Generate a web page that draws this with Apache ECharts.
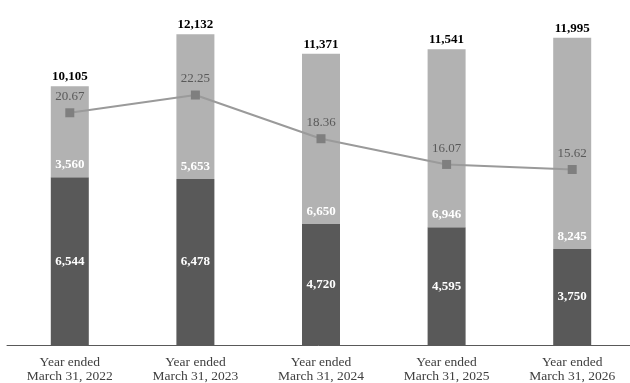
<!DOCTYPE html>
<html>
<head>
<meta charset="utf-8">
<script src="https://cdn.jsdelivr.net/npm/echarts@6/dist/echarts.min.js"></script>
<style>html,body{margin:0;padding:0;background:#fff;}#c{width:630px;height:383px;}</style>
</head>
<body>
<div id="c"></div>
<script>
const categories = ["Year ended\nMarch 31, 2022","Year ended\nMarch 31, 2023","Year ended\nMarch 31, 2024","Year ended\nMarch 31, 2025","Year ended\nMarch 31, 2026"];
const darkValues = [6544, 6478, 4720, 4595, 3750];
const lightValues = [3560, 5653, 6650, 6946, 8245];
const totalLabels = ["10,105", "12,132", "11,371", "11,541", "11,995"];
const lineValues = [20.67, 22.25, 18.36, 16.07, 15.62];

const fmt = v => v.toLocaleString('en-US');
const serif = '"Liberation Serif", "Times New Roman", serif';

const chart = echarts.init(document.getElementById('c'), null, {renderer: 'canvas'});
chart.setOption({
  animation: false,
  backgroundColor: '#fff',
  grid: {left: 7, top: 12, width: 628, height: 333, outerBoundsMode: 'none', containLabel: false},
  xAxis: {
    type: 'category', data: categories,
    axisLine: {show: true, lineStyle: {color: '#595959', width: 1}},
    axisTick: {show: false},
    axisLabel: {color: '#404040', fontFamily: serif, fontSize: 13.5, lineHeight: 14, margin: 10}
  },
  yAxis: [
    {type: 'value', min: 0, max: 13000, show: false, splitLine: {show: false}},
    {type: 'value', min: 0, max: 29.64, show: false, splitLine: {show: false}}
  ],
  series: [
    {
      type: 'bar', stack: 's', data: darkValues, barWidth: 38,
      itemStyle: {color: '#595959'},
      label: {show: true, position: 'inside', color: '#fff', fontFamily: serif, fontWeight: 'bold', fontSize: 13, formatter: p => fmt(p.value)}
    },
    {
      type: 'bar', stack: 's', data: lightValues, barWidth: 38,
      itemStyle: {color: '#b2b2b2'},
      label: {show: true, position: 'insideBottom', distance: 6, color: '#fff', fontFamily: serif, fontWeight: 'bold', fontSize: 13, formatter: p => fmt(p.value)}
    },
    {
      type: 'bar', stack: 's', data: darkValues.map(() => 0), barWidth: 38,
      itemStyle: {color: 'transparent'},
      label: {show: true, position: 'top', distance: 3, color: '#000', fontFamily: serif, fontWeight: 'bold', fontSize: 13, formatter: p => totalLabels[p.dataIndex]}
    },
    {
      type: 'line', yAxisIndex: 1, data: lineValues,
      symbol: 'rect', symbolSize: 9,
      lineStyle: {color: '#9a9a9a', width: 2},
      itemStyle: {color: '#7f7f7f'},
      label: {show: true, position: 'top', distance: 5, color: '#595959', fontFamily: serif, fontSize: 13, formatter: p => p.value.toFixed(2)}
    }
  ]
});
</script>
</body>
</html>
